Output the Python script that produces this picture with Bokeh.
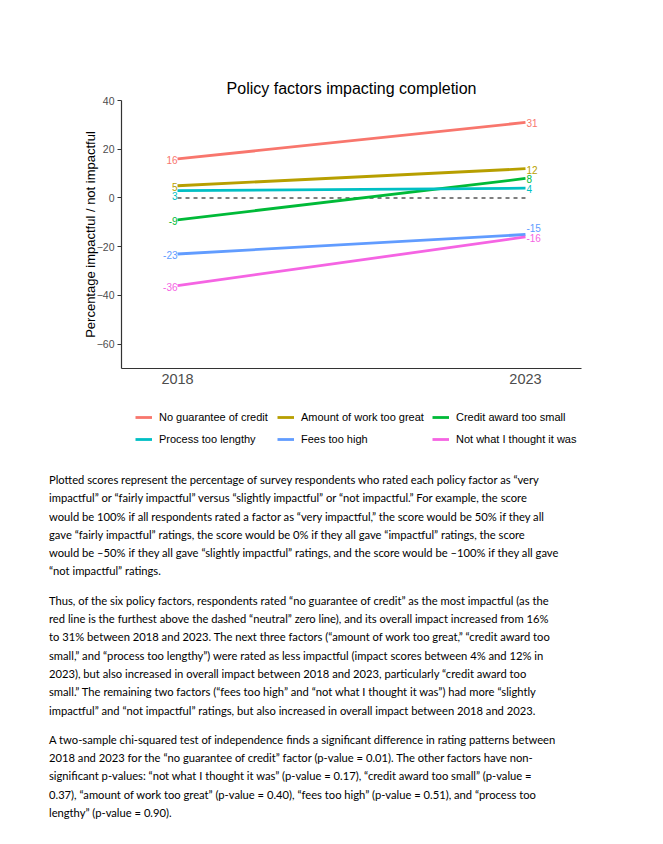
from bokeh.plotting import figure
from bokeh.models import ColumnDataSource, FixedTicker, Legend, LegendItem, Div, Range1d
from bokeh.layouts import column
from bokeh.embed import file_html
from bokeh.resources import INLINE
from bokeh.core.properties import value

# ---- data ----
factors = [
    "No guarantee of credit",
    "Amount of work too great",
    "Credit award too small",
    "Process too lengthy",
    "Fees too high",
    "Not what I thought it was",
]
years = [2018, 2023]
score_2018 = [16, 5, -9, 3, -23, -36]
score_2023 = [31, 12, 8, 4, -15, -16]
colors = ["#F8766D", "#B79F00", "#00BA38", "#00BFC4", "#619CFF", "#F564E3"]
# small repel offsets of the value labels (in score units)
nudge_2018 = [-0.4, -0.4, -0.3, -2.0, -0.4, -0.6]
nudge_2023 = [-0.4, -0.6, -0.4, -0.5, 2.7, -0.3]
y_ticks = [-60, -40, -20, 0, 20, 40]
zero_line = [0, 0]

title_text = "Policy factors impacting completion"
y_label = "Percentage impactful / not impactful"

paragraphs = [
    [
        "Plotted scores represent the percentage of survey respondents who rated each policy factor as \u201cvery",
        "impactful\u201d or \u201cfairly impactful\u201d versus \u201cslightly impactful\u201d or \u201cnot impactful.\u201d For example, the score",
        "would be 100% if all respondents rated a factor as \u201cvery impactful,\u201d the score would be 50% if they all",
        "gave \u201cfairly impactful\u201d ratings, the score would be 0% if they all gave \u201cimpactful\u201d ratings, the score",
        "would be \u201350% if they all gave \u201cslightly impactful\u201d ratings, and the score would be \u2013100% if they all gave",
        "\u201cnot impactful\u201d ratings.",
    ],
    [
        "Thus, of the six policy factors, respondents rated \u201cno guarantee of credit\u201d as the most impactful (as the",
        "red line is the furthest above the dashed \u201cneutral\u201d zero line), and its overall impact increased from 16%",
        "to 31% between 2018 and 2023. The next three factors (\u201camount of work too great,\u201d \u201ccredit award too",
        "small,\u201d and \u201cprocess too lengthy\u201d) were rated as less impactful (impact scores between 4% and 12% in",
        "2023), but also increased in overall impact between 2018 and 2023, particularly \u201ccredit award too",
        "small.\u201d The remaining two factors (\u201cfees too high\u201d and \u201cnot what I thought it was\u201d) had more \u201cslightly",
        "impactful\u201d and \u201cnot impactful\u201d ratings, but also increased in overall impact between 2018 and 2023.",
    ],
    [
        "A two-sample chi-squared test of independence finds a significant difference in rating patterns between",
        "2018 and 2023 for the \u201cno guarantee of credit\u201d factor (p-value = 0.01). The other factors have non-",
        "significant p-values: \u201cnot what I thought it was\u201d (p-value = 0.17), \u201ccredit award too small\u201d (p-value =",
        "0.37), \u201camount of work too great\u201d (p-value = 0.40), \u201cfees too high\u201d (p-value = 0.51), and \u201cprocess too",
        "lengthy\u201d (p-value = 0.90).",
    ],
]

FONT = "Liberation Sans"
W = 647

# ---- main chart ----
H = 403
p = figure(
    width=W, height=H,
    x_range=Range1d(2017.195, 2023.805), y_range=Range1d(-70, 40),
    output_backend="svg", toolbar_location=None,
    min_border_left=121, min_border_right=W - 581, min_border_top=100,
    min_border_bottom=H - 368,
)
p.outline_line_color = None
p.xgrid.visible = False
p.ygrid.visible = False
p.background_fill_color = "white"
p.border_fill_color = "white"

p.title.text = title_text
p.title.align = "center"
p.title.text_font = FONT
p.title.text_font_size = "16px"
p.title.text_font_style = "normal"
p.title.text_color = "black"
p.title.standoff = 7

p.line(years, zero_line, line_color="black", line_width=1.1, line_dash="4 4")

for a, b, c in zip(score_2018, score_2023, colors):
    p.line(years, [a, b], line_color=c, line_width=2.8)

src_left = ColumnDataSource(dict(
    x=[years[0]] * len(factors),
    y=[v + n for v, n in zip(score_2018, nudge_2018)],
    t=[str(v) for v in score_2018],
    c=colors,
))
src_right = ColumnDataSource(dict(
    x=[years[1]] * len(factors),
    y=[v + n for v, n in zip(score_2023, nudge_2023)],
    t=[str(v) for v in score_2023],
    c=colors,
))
p.text(x="x", y="y", text="t", source=src_left, text_color="c", text_align="right",
       text_baseline="middle", text_font=value(FONT), text_font_size="10px", x_offset=0)
p.text(x="x", y="y", text="t", source=src_right, text_color="c", text_align="left",
       text_baseline="middle", text_font=value(FONT), text_font_size="10px", x_offset=1)

xa = p.xaxis[0]
xa.ticker = FixedTicker(ticks=years)
xa.major_tick_line_color = None
xa.minor_tick_line_color = None
xa.major_tick_out = 0
xa.major_tick_in = 0
xa.major_label_standoff = 5
xa.major_label_text_font = FONT
xa.major_label_text_font_size = "14.5px"
xa.major_label_text_color = "#4D4D4D"
xa.axis_line_color = "#333333"
xa.axis_line_width = 1.2

ya = p.yaxis[0]
ya.ticker = FixedTicker(ticks=y_ticks)
ya.minor_tick_line_color = None
ya.major_tick_out = 4
ya.major_tick_in = 0
ya.major_tick_line_color = "#333333"
ya.major_label_standoff = 3
ya.major_label_text_font = FONT
ya.major_label_text_font_size = "10.5px"
ya.major_label_text_color = "#4D4D4D"
ya.axis_line_color = "#333333"
ya.axis_line_width = 1.2
ya.axis_label = y_label
ya.axis_label_text_font = FONT
ya.axis_label_text_font_size = "13px"
ya.axis_label_text_font_style = "normal"
ya.axis_label_text_color = "black"
ya.axis_label_standoff = -4

# ---- legend strip (own small plot; its lines lie outside its view) ----
LH = 50
lg = figure(
    width=W, height=LH, x_range=Range1d(0, 1), y_range=Range1d(0, 1),
    output_backend="svg", toolbar_location=None,
    x_axis_location=None, y_axis_location=None,
    min_border=0, min_border_left=0, min_border_right=0, min_border_top=0, min_border_bottom=0,
)
lg.xgrid.visible = False
lg.ygrid.visible = False
lg.outline_line_color = None
lg.background_fill_color = "white"
lg.border_fill_color = "white"
renderers = []
for a, b, c in zip(score_2018, score_2023, colors):
    renderers.append(lg.line(years, [a, b], line_color=c, line_width=2.8))

# the column layout aligns this strip's frame with the chart frame (left edge at 121px)
legend_cols = [[0, 3], [1, 4], [2, 5]]
legend_x = [14, 156, 311]
for idx, x0 in zip(legend_cols, legend_x):
    lgd = Legend(
        items=[LegendItem(label=factors[i], renderers=[renderers[i]]) for i in idx],
        location=(x0, 4),
        label_text_font=FONT, label_text_font_size="11px", label_text_color="black",
        glyph_width=17, glyph_height=20, label_height=20, label_standoff=7,
        spacing=2, padding=0, margin=0,
        border_line_color=None, background_fill_alpha=0,
    )
    lg.add_layout(lgd, "center")

# ---- text ----
html_paras = "".join(
    '<p style="margin:0 0 11px 0;">' + "<br>".join(lines) + "</p>" for lines in paragraphs
)
div = Div(
    text=(
        '<div style="font-family: Lato, sans-serif; font-size: 11.2px; line-height: 18.3px; '
        'color: #000; padding-left: 44px; padding-top: 13px; white-space: nowrap;">'
        + html_paras + "</div>"
    ),
    width=W, height=380,
)

layout = column(p, lg, div, spacing=0)
open("out.html", "w").write(file_html(layout, INLINE))
